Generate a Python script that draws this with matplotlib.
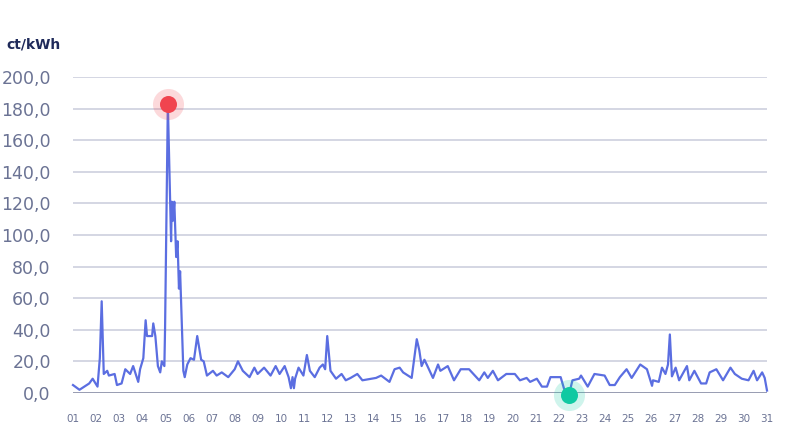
import matplotlib
matplotlib.use("Agg")
import matplotlib.pyplot as plt
import numpy as np

# time in days since the 1st (0 = day 01), price in ct/kWh
t = [0,0.28,0.7,0.85,1.06,1.16,1.24,1.33,1.48,1.55,1.8,1.9,2.1,2.26,2.47,2.6,2.82,2.9,3.04,3.14,3.2,3.42,3.47,3.56,3.67,3.77,3.84,3.95,3.98,4.1,
     4.24,4.27,4.32,4.38,4.46,4.52,4.58,4.63,4.77,4.83,4.94,5.08,5.23,5.37,5.54,5.65,5.79,6.05,6.21,6.43,6.71,6.99,7.13,7.34,7.63,7.84,7.98,8.26,8.54,8.76,
     8.93,9.15,9.32,9.42,9.49,9.55,9.6,9.75,9.96,10.11,10.24,10.45,10.66,10.8,10.9,10.99,11.13,11.37,11.61,11.79,
     12.0,12.29,12.51,13.1,13.32,13.68,13.9,14.12,14.27,14.64,14.86,14.97,15.07,15.19,15.29,15.56,15.78,15.88,16.2,16.47,16.76,17.12,17.56,17.78,17.93,
     18.15,18.37,18.73,19.1,19.32,19.61,19.76,20.05,20.27,20.49,20.64,21.08,21.23,21.44,21.59,21.88,21.96,22.25,22.54,22.98,23.2,23.42,23.64,23.93,24.15,
     24.52,24.81,25.03,25.07,25.32,25.46,25.61,25.72,25.8,25.89,26.05,26.2,26.54,26.64,26.86,27.15,27.37,27.52,27.81,28.1,28.42,28.61,28.91,29.2,29.42,
     29.57,29.79,29.9,30.0]
price = [5,2,6,9,4,22,58,12,14,11,12,5,6,15,12,17,7,15,22,46,36,36,44,36,17,13,20,17,41,183,
         96,121,109,121,86,96,66,77,14,10,18,22,21,36,21,20,11,14,11,13,10,15,20,14,10,16,12,16,11,17,
         12,17,10,3,10,3,9,16,11,24,14,10,16,18,15,36,14,9,12,8,
         9.5,12,8,9.5,11,7,15,16,13,9.5,34,27,17,21,18,9.5,18,14,17,8,15,15,8,13,9.5,
         14,8,12,12,8,9.5,7,9,4,4,10,10,2.5,-1,8,9,11,4,12,11,5,5,10,15,9.5,
         18,15,4.5,8,7,16,12,18,37,10.5,16,8,17,8,14,6,6,13,15,8,16,12,9,8,14,
         8,13,9.5,1.5]
day_labels = [f"{d:02d}" for d in range(1, 32)]
y_ticks = list(range(0, 201, 20))

fig = plt.figure(figsize=(7.9, 4.42), dpi=100)
ax = fig.add_axes([0.0924, 0.111, 0.8785, 0.715])
ax.set_xlim(0, 30)
ax.set_ylim(0, 200)
for s in ax.spines.values():
    s.set_visible(False)
for y in y_ticks[1:]:
    ax.axhline(y, color="#c9cbdb", lw=1.1, zorder=0)
ax.axhline(0, color="#8e93aa", lw=2, zorder=1)

ax.plot(t, price, color="#5b6ee1", lw=1.6, zorder=3, clip_on=False)
imax = int(np.argmax(price)); imin = int(np.argmin(price))
ax.scatter([t[imax]], [price[imax]], s=500, color="#f0444f", alpha=0.2, zorder=4, clip_on=False, lw=0)
ax.scatter([t[imax]], [price[imax]], s=150, color="#f0444f", zorder=5, clip_on=False, lw=0)
ax.scatter([t[imin]], [price[imin]], s=500, color="#11c9a2", alpha=0.2, zorder=4, clip_on=False, lw=0)
ax.scatter([t[imin]], [price[imin]], s=150, color="#11c9a2", zorder=5, clip_on=False, lw=0)

ax.set_yticks(y_ticks)
ax.set_yticklabels([f"{v:.1f}".replace(".", ",") for v in y_ticks], fontsize=12.5, color="#6b7394")
ax.set_xticks(range(31))
ax.set_xticklabels(day_labels, fontsize=7.5, color="#6b7394")
ax.tick_params(length=0)
ax.tick_params(axis="x", pad=15)
ax.tick_params(axis="y", pad=16)
fig.text(0.008, 0.9, "ct/kWh", fontsize=10, fontweight="bold", color="#1f2a5a", va="center")
fig.savefig("out.png", dpi=100)
